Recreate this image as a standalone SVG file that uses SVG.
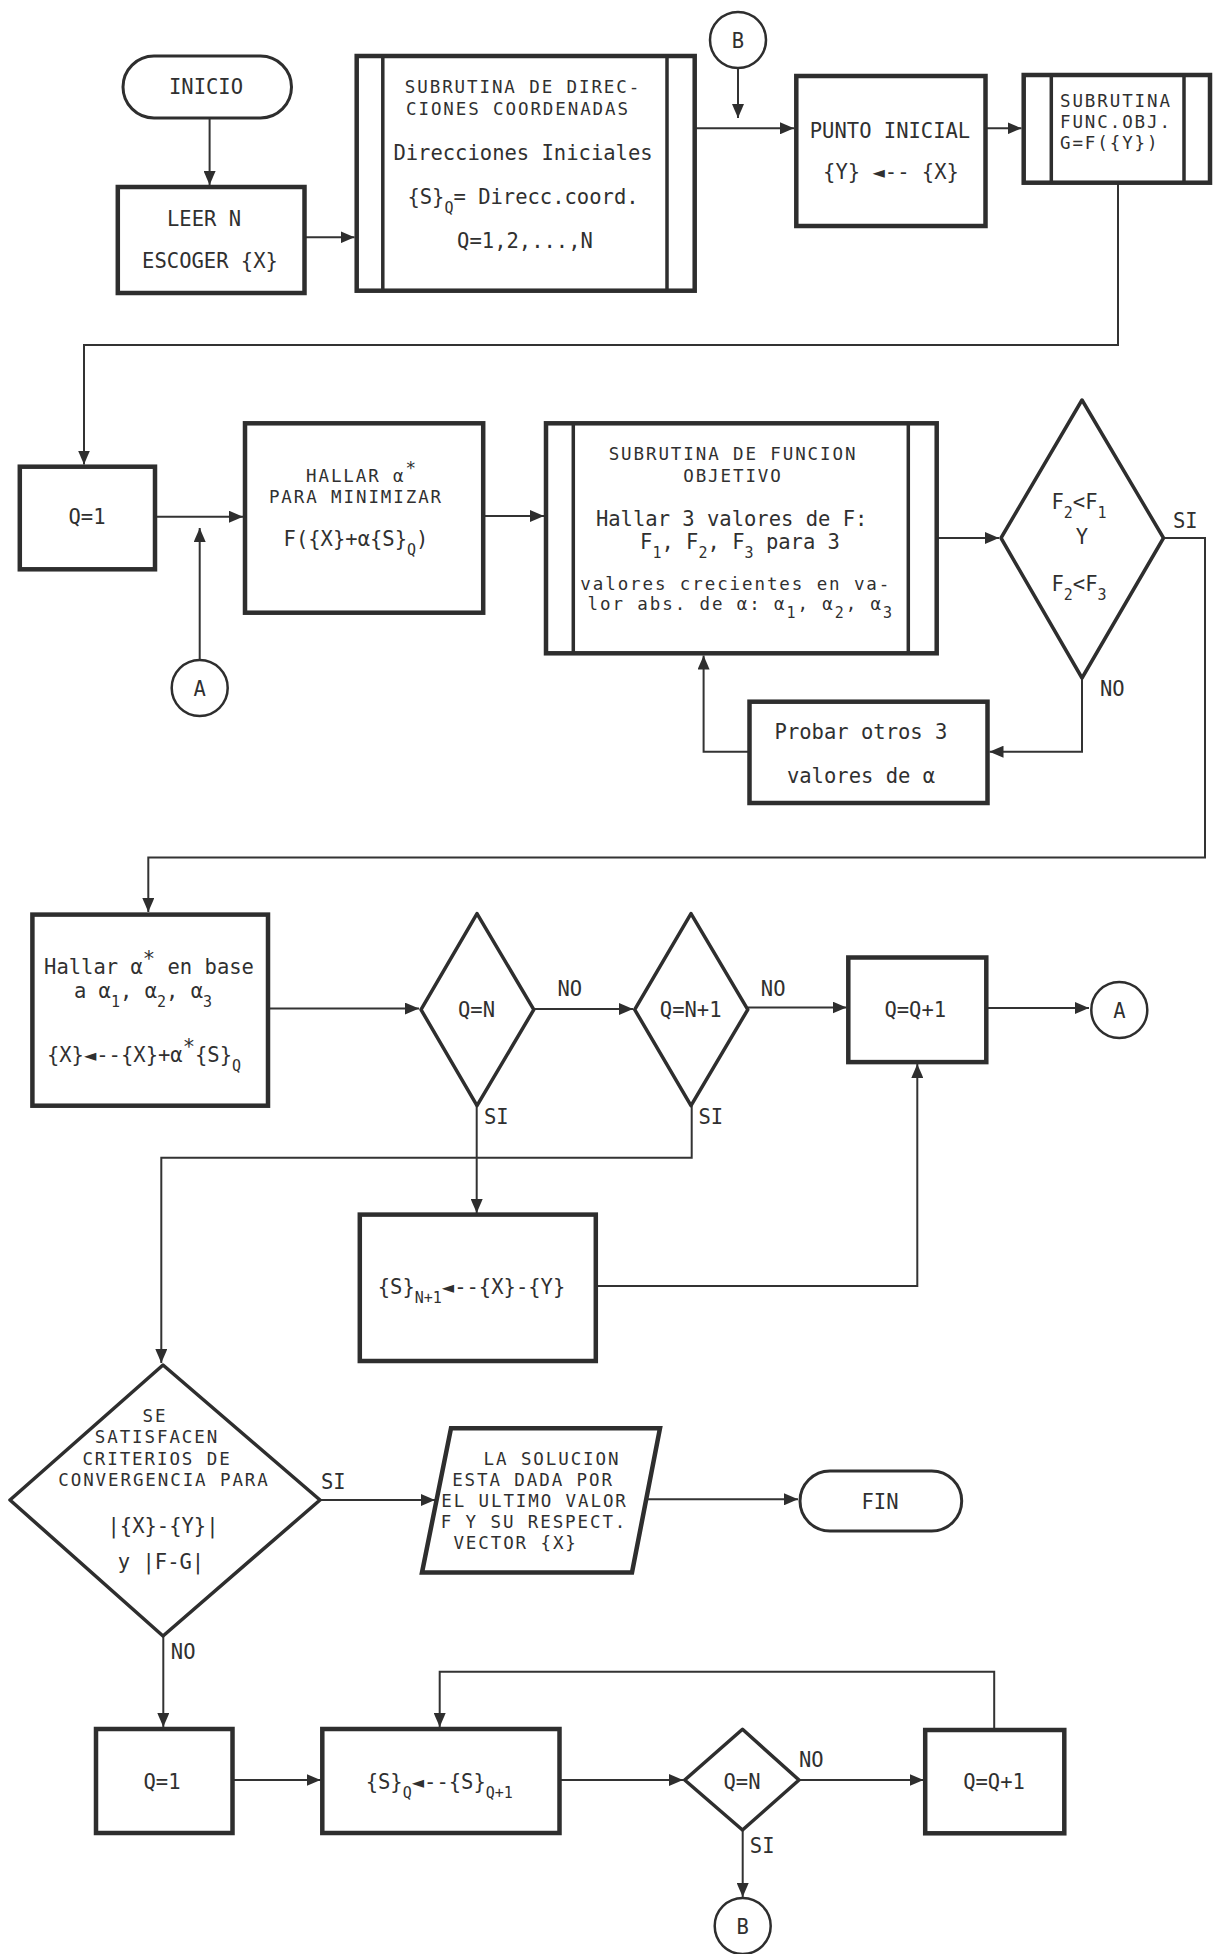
<svg xmlns="http://www.w3.org/2000/svg" width="1218" height="1954" viewBox="0 0 1218 1954">
<defs>
<style>
.t{font-family:"DejaVu Sans Mono","Liberation Mono",monospace;font-size:20.5px;fill:#303030;text-anchor:middle}
.k{font-size:17.5px;letter-spacing:1.9px}
.l{text-anchor:start}
.s{font-size:15px}
.box{fill:#fff;stroke:#2e2e2e;stroke-width:4.5}
.in{stroke:#2e2e2e;stroke-width:3.5;fill:none}
.dia{fill:#fff;stroke:#2e2e2e;stroke-width:3.5;stroke-linejoin:round}
.term{fill:#fff;stroke:#2e2e2e;stroke-width:3}
.circ{fill:#fff;stroke:#2e2e2e;stroke-width:2.5}
.c{fill:none;stroke:#333;stroke-width:2}
.a{marker-end:url(#ah)}
</style>
<marker id="ah" markerUnits="userSpaceOnUse" markerWidth="14" markerHeight="12" refX="14" refY="6" orient="auto">
<path d="M0,0 L14,6 L0,12 z" fill="#2e2e2e"/>
</marker>
</defs>
<rect width="1218" height="1954" fill="#fff"/>

<g id="connectors">
<path class="c a" d="M209.6,118 V185"/>
<path class="c a" d="M304.5,237.3 H354.5"/>
<path class="c a" d="M738,68 V118"/>
<path class="c a" d="M694.6,128.3 H794"/>
<path class="c a" d="M985.5,128.3 H1021.5"/>
<path class="c a" d="M1118,182.7 V345 H84 V464.5"/>
<path class="c a" d="M155,516.7 H243"/>
<path class="c a" d="M199.7,660 V528"/>
<path class="c a" d="M483.2,516 H544"/>
<path class="c a" d="M936.7,538 H999"/>
<path class="c a" d="M1163.5,538 H1205 V857.5 H148.3 V912"/>
<path class="c a" d="M1082,678 V751.7 H989.5"/>
<path class="c a" d="M749.5,751.7 H703.6 V655.5"/>
<path class="c a" d="M268,1008.6 H419"/>
<path class="c a" d="M533.8,1009 H633"/>
<path class="c a" d="M747.8,1007.5 H846.5"/>
<path class="c a" d="M986.3,1008 H1089"/>
<path class="c a" d="M476.7,1105.7 V1213"/>
<path class="c a" d="M691.7,1105.7 V1157.7 H161.3 V1363"/>
<path class="c a" d="M597,1286 H917.3 V1064"/>
<path class="c a" d="M320,1500 H435"/>
<path class="c a" d="M646,1499.3 H798"/>
<path class="c a" d="M163.3,1636 V1727"/>
<path class="c a" d="M232.5,1780 H320.5"/>
<path class="c a" d="M994.2,1730 V1671.7 H439.7 V1727"/>
<path class="c a" d="M559.5,1780 H683"/>
<path class="c a" d="M799,1780 H923.5"/>
<path class="c a" d="M742.7,1830 V1897"/>
</g>

<g id="inicio">
<rect class="term" x="123" y="56" width="168.5" height="62" rx="31"/>
<text class="t" x="206" y="93.5">INICIO</text>
</g>

<g id="leer">
<rect class="box" x="117.8" y="187" width="186.7" height="106"/>
<text class="t" x="204" y="225.5">LEER N</text>
<text class="t" x="210" y="267.5">ESCOGER {X}</text>
</g>

<g id="sub-direcciones">
<rect class="box" x="356.7" y="56" width="338" height="234.7"/>
<path class="in" d="M382.8,56 V290.7 M667,56 V290.7"/>
<text class="t k" x="523" y="92.5">SUBRUTINA DE DIREC-</text>
<text class="t k" x="518" y="114.5">CIONES COORDENADAS</text>
<text class="t" x="523" y="159.8">Direcciones Iniciales</text>
<text class="t" x="523" y="204">{S}<tspan class="s" dy="9">Q</tspan><tspan dy="-9">= Direcc.coord.</tspan></text>
<text class="t" x="525" y="247.5">Q=1,2,...,N</text>
</g>

<g id="conector-b-top">
<circle class="circ" cx="738" cy="40" r="28"/>
<text class="t" x="738" y="47.5">B</text>
</g>

<g id="punto-inicial">
<rect class="box" x="796.3" y="76" width="189.2" height="150"/>
<text class="t" x="890" y="138">PUNTO INICIAL</text>
<text class="t" x="891" y="179">{Y} ◄-- {X}</text>
</g>

<g id="sub-func-obj">
<rect class="box" x="1023.7" y="75" width="186.3" height="107.7"/>
<path class="in" d="M1051.3,75 V182.7 M1184,75 V182.7"/>
<text class="t k l" x="1060" y="107">SUBRUTINA</text>
<text class="t k l" x="1060" y="128">FUNC.OBJ.</text>
<text class="t k l" x="1060" y="149">G=F({Y})</text>
</g>

<g id="q1-top">
<rect class="box" x="19.8" y="466.7" width="135.2" height="102.6"/>
<text class="t" x="87" y="524">Q=1</text>
</g>

<g id="conector-a-left">
<circle class="circ" cx="199.7" cy="688" r="28"/>
<text class="t" x="199.7" y="695.5">A</text>
</g>

<g id="hallar-alfa">
<rect class="box" x="245" y="423.3" width="238.2" height="189.4"/>
<text class="t k" x="362" y="481.5">HALLAR α<tspan dy="-8">*</tspan></text>
<text class="t k" x="356" y="503">PARA MINIMIZAR</text>
<text class="t" x="356" y="546">F({X}+α{S}<tspan class="s" dy="9">Q</tspan><tspan dy="-9">)</tspan></text>
</g>

<g id="sub-funcion-objetivo">
<rect class="box" x="546" y="423.3" width="390.7" height="230"/>
<path class="in" d="M573.3,423.3 V653.3 M908.3,423.3 V653.3"/>
<text class="t k" x="733" y="459.5">SUBRUTINA DE FUNCION</text>
<text class="t k" x="733" y="481.5">OBJETIVO</text>
<text class="t" x="731.7" y="525.8">Hallar 3 valores de F:</text>
<text class="t" x="740" y="549">F<tspan class="s" dy="9">1</tspan><tspan dy="-9">, F</tspan><tspan class="s" dy="9">2</tspan><tspan dy="-9">, F</tspan><tspan class="s" dy="9">3</tspan><tspan dy="-9"> para 3</tspan></text>
<text class="t k" x="735.8" y="589.5">valores crecientes en va-</text>
<text class="t k" x="740.8" y="610">lor abs. de α: α<tspan class="s" dy="8">1</tspan><tspan dy="-8">, α</tspan><tspan class="s" dy="8">2</tspan><tspan dy="-8">, α</tspan><tspan class="s" dy="8">3</tspan></text>
</g>

<g id="decision-f2">
<polygon class="dia" points="1082,400 1163.5,538 1082,678 1001,538"/>
<text class="t" x="1079" y="509">F<tspan class="s" dy="9">2</tspan><tspan dy="-9">&lt;F</tspan><tspan class="s" dy="9">1</tspan></text>
<text class="t" x="1082" y="544">Y</text>
<text class="t" x="1079" y="590.5">F<tspan class="s" dy="9">2</tspan><tspan dy="-9">&lt;F</tspan><tspan class="s" dy="9">3</tspan></text>
<text class="t l" x="1173" y="527.5">SI</text>
<text class="t l" x="1100" y="695.5">NO</text>
</g>

<g id="probar">
<rect class="box" x="749.5" y="701.7" width="238" height="101.3"/>
<text class="t" x="861" y="739">Probar otros 3</text>
<text class="t" x="861" y="782.5">valores de α</text>
</g>

<g id="hallar-base">
<rect class="box" x="32.4" y="914.6" width="235.6" height="191.1"/>
<text class="t" x="149" y="974">Hallar α<tspan dy="-8">*</tspan><tspan dy="8"> en base</tspan></text>
<text class="t" x="143" y="998">a α<tspan class="s" dy="9">1</tspan><tspan dy="-9">, α</tspan><tspan class="s" dy="9">2</tspan><tspan dy="-9">, α</tspan><tspan class="s" dy="9">3</tspan></text>
<text class="t" x="144" y="1061.5">{X}◄--{X}+α<tspan dy="-8">*</tspan><tspan dy="8">{S}</tspan><tspan class="s" dy="9">Q</tspan></text>
</g>

<g id="decision-qn">
<polygon class="dia" points="477,913.6 533.8,1009.6 477,1105.7 421,1009.6"/>
<text class="t" x="476.5" y="1016.5">Q=N</text>
<text class="t l" x="557.5" y="995.5">NO</text>
<text class="t l" x="484" y="1124">SI</text>
</g>

<g id="decision-qn1">
<polygon class="dia" points="691,913.6 747.8,1009.6 691,1105.7 634.7,1009.6"/>
<text class="t" x="690.7" y="1016.5">Q=N+1</text>
<text class="t l" x="760.8" y="995.5">NO</text>
<text class="t l" x="698.5" y="1124">SI</text>
</g>

<g id="q-inc-mid">
<rect class="box" x="848.3" y="957.5" width="138" height="104.6"/>
<text class="t" x="915.3" y="1016.5">Q=Q+1</text>
</g>

<g id="conector-a-right">
<circle class="circ" cx="1119.3" cy="1010" r="28"/>
<text class="t" x="1119.3" y="1017.5">A</text>
</g>

<g id="s-n1">
<rect class="box" x="359.8" y="1214.6" width="236" height="146.4"/>
<text class="t" x="471.5" y="1293.5">{S}<tspan class="s" dy="9">N+1</tspan><tspan dy="-9">◄--{X}-{Y}</tspan></text>
</g>

<g id="decision-convergencia">
<polygon class="dia" points="163,1365 320,1500 163,1636 10,1500"/>
<text class="t k" x="155" y="1421.5">SE</text>
<text class="t k" x="157" y="1443">SATISFACEN</text>
<text class="t k" x="157" y="1464.5">CRITERIOS DE</text>
<text class="t k" x="164" y="1486">CONVERGENCIA PARA</text>
<text class="t" x="163" y="1532.5">|{X}-{Y}|</text>
<text class="t" x="161" y="1569">y |F-G|</text>
<text class="t l" x="321" y="1489">SI</text>
<text class="t l" x="170.8" y="1659">NO</text>
</g>

<g id="solucion">
<polygon class="box" points="451,1428.3 660,1428.3 632,1572.5 422,1572.5"/>
<text class="t k" x="552" y="1464.5">LA SOLUCION</text>
<text class="t k" x="533" y="1485.5">ESTA DADA POR</text>
<text class="t k" x="534.5" y="1506.5">EL ULTIMO VALOR</text>
<text class="t k" x="534" y="1527.5">F Y SU RESPECT.</text>
<text class="t k" x="515.6" y="1548.5">VECTOR {X}</text>
</g>

<g id="fin">
<rect class="term" x="800" y="1471" width="161.7" height="60" rx="30"/>
<text class="t" x="880" y="1508.5">FIN</text>
</g>

<g id="q1-bottom">
<rect class="box" x="96" y="1729" width="136.5" height="104"/>
<text class="t" x="162" y="1789">Q=1</text>
</g>

<g id="s-q">
<rect class="box" x="322.3" y="1729" width="237.2" height="104"/>
<text class="t" x="439.3" y="1788.5">{S}<tspan class="s" dy="9">Q</tspan><tspan dy="-9">◄--{S}</tspan><tspan class="s" dy="9">Q+1</tspan></text>
</g>

<g id="decision-qn-bottom">
<polygon class="dia" points="742.5,1729.3 799,1780 742.5,1830 684.7,1780"/>
<text class="t" x="742" y="1788.5">Q=N</text>
<text class="t l" x="799" y="1767">NO</text>
<text class="t l" x="749.8" y="1852.5">SI</text>
</g>

<g id="q-inc-bottom">
<rect class="box" x="925.2" y="1730" width="139.1" height="103.3"/>
<text class="t" x="994" y="1788.5">Q=Q+1</text>
</g>

<g id="conector-b-bottom">
<circle class="circ" cx="742.7" cy="1926" r="28"/>
<text class="t" x="742.7" y="1933.5">B</text>
</g>
</svg>
